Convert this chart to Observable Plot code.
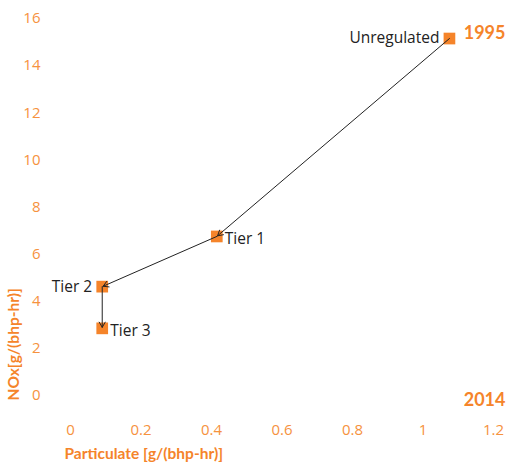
<!DOCTYPE html>
<html>
<head>
<meta charset="utf-8">
<script src="https://cdn.jsdelivr.net/npm/d3@7"></script>
<script src="https://cdn.jsdelivr.net/npm/@observablehq/plot@0.6"></script>
<style>
  html, body { margin: 0; padding: 0; background: #fff; }
  svg { display: block; }
</style>
</head>
<body>
<div id="chart"></div>
<script>
const stages = ["Unregulated", "Tier 1", "Tier 2", "Tier 3"];
const particulate = [1.075, 0.415, 0.09, 0.09];
const nox = [15.15, 6.75, 4.62, 2.85];
const xTicks = [0, 0.2, 0.4, 0.6, 0.8, 1, 1.2];
const yTicks = [0, 2, 4, 6, 8, 10, 12, 14, 16];
const startYear = "1995";
const endYear = "2014";

const ORANGE = "#f5842a";
const TICK = "#f6923e";
const FONT = "Lato, 'Open Sans', sans-serif";
const FONT2 = "'Open Sans', sans-serif";

const points = stages.map((s, i) => ({stage: s, x: particulate[i], y: nox[i]}));
const segments = points.slice(1).map((p, i) => ({x1: points[i].x, y1: points[i].y, x2: p.x, y2: p.y}));
const leftLabels = points.filter(d => d.stage === "Unregulated" || d.stage === "Tier 2");
const rightLabels = points.filter(d => d.stage === "Tier 1" || d.stage === "Tier 3");

const chart = Plot.plot({
  width: 509,
  height: 464,
  marginLeft: 70,
  marginRight: 16,
  marginTop: 18,
  marginBottom: 69,
  style: {fontFamily: FONT, background: "#fff"},
  x: {domain: [0, 1.2]},
  y: {domain: [0, 16]},
  marks: [
    Plot.axisX({
      ticks: xTicks, tickFormat: d => String(d), tickSize: 0, tickPadding: 29,
      fontSize: 15, fontFamily: FONT2, color: TICK, label: null
    }),
    Plot.axisY({
      ticks: yTicks, tickFormat: d => String(d), tickSize: 0, tickPadding: 30,
      fontSize: 15, fontFamily: FONT2, color: TICK, label: null
    }),
    Plot.text(["Particulate [g/(bhp-hr)]"], {
      frameAnchor: "bottom-left", text: d => d, dx: -6, dy: 63,
      fill: ORANGE, fontWeight: "bold", fontSize: 15.5, textAnchor: "start"
    }),
    Plot.text(["NOx[g/(bhp-hr)]"], {
      frameAnchor: "bottom-left", text: d => d, dx: -52, dy: 5, rotate: -90,
      fill: ORANGE, fontWeight: "bold", fontSize: 15.5, textAnchor: "start"
    }),
    Plot.text([startYear], {
      frameAnchor: "top-right", text: d => d, dx: 12, dy: 8,
      fill: ORANGE, fontWeight: "bold", fontSize: 18, textAnchor: "end"
    }),
    Plot.text([endYear], {
      frameAnchor: "bottom-right", text: d => d, dx: 12, dy: 10,
      fill: ORANGE, fontWeight: "bold", fontSize: 18, textAnchor: "end"
    }),
    Plot.dot(points, {x: "x", y: "y", symbol: "square", r: 6.6, fill: ORANGE, stroke: "none"}),
    Plot.arrow(segments, {
      x1: "x1", y1: "y1", x2: "x2", y2: "y2",
      stroke: "#222", strokeWidth: 1, headLength: 9, insetEnd: 1, bend: 0
    }),
    Plot.text(leftLabels, {x: "x", y: "y", text: "stage", textAnchor: "end", dx: -10, fill: "#222", fontSize: 15.5, fontFamily: FONT2}),
    Plot.text(rightLabels, {x: "x", y: "y", text: "stage", textAnchor: "start", dx: 8, dy: 3, fill: "#222", fontSize: 15.5, fontFamily: FONT2})
  ]
});
document.getElementById("chart").append(chart);
</script>
</body>
</html>
